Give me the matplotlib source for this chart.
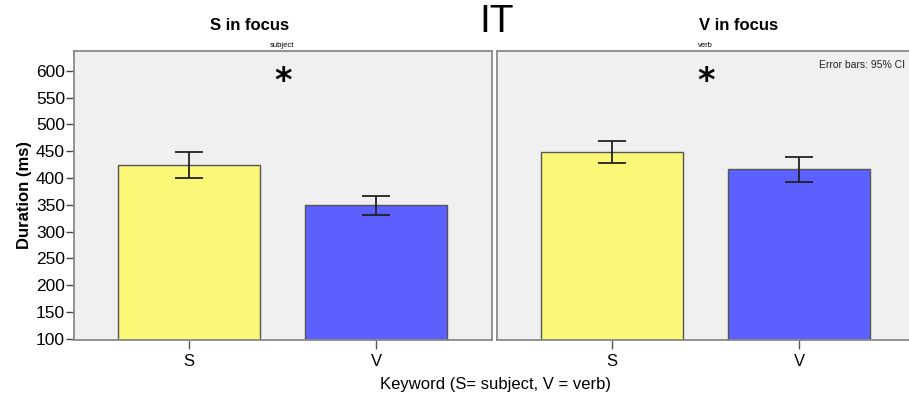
import numpy as np
import matplotlib.pyplot as plt

plt.rcParams['font.family'] = ['Liberation Sans', 'DejaVu Sans']

# Mean durations (ms) with 95% CI bounds
keywords = ['S', 'V']
s_focus_mean = [425, 349]
s_focus_lo = [400, 331]
s_focus_hi = [449, 367]
v_focus_mean = [448, 416]
v_focus_lo = [428, 392]
v_focus_hi = [469, 439]

panel_titles = ['S in focus', 'V in focus']
panel_subs = ['subject', 'verb']
bar_colors = ['#fbf777', '#5c60ff']
bg = '#f0f0f0'
spine_col = '#8a8a8a'

fig = plt.figure(figsize=(9.09, 3.97), dpi=100)
ax1 = fig.add_axes([74/909, 57.5/397, 418/909, 288.5/397])
ax2 = fig.add_axes([497/909, 57.5/397, 418/909, 288.5/397])

panels = [(ax1, s_focus_mean, s_focus_lo, s_focus_hi),
          (ax2, v_focus_mean, v_focus_lo, v_focus_hi)]

x = np.arange(len(keywords))
for ax, mean, lo, hi in panels:
    mean = np.array(mean)
    err = np.array([mean - np.array(lo), np.array(hi) - mean])
    ax.set_facecolor(bg)
    ax.bar(x, mean - 98.5, bottom=98.5, width=0.76, color=bar_colors,
           edgecolor='#555555', linewidth=1.0, zorder=2)
    ax.errorbar(x, mean, yerr=err, fmt='none', ecolor='#222222',
                elinewidth=1.3, capsize=10, capthick=1.3, zorder=3)
    ax.set_xlim(-0.615, 1.62)
    ax.set_ylim(98.5, 637)
    ax.set_xticks(x)
    ax.set_xticklabels(keywords, fontsize=12)
    ax.tick_params(axis='x', length=6.5, width=1, color='#555555', pad=4)
    for sp in ax.spines.values():
        sp.set_color(spine_col)
        sp.set_linewidth(1.3)
    # significance asterisk
    ax.text(0.5, 0.893, '*', transform=ax.transAxes, ha='center', va='center',
            fontsize=24, fontweight='bold', family='DejaVu Sans')

ax1.set_yticks(np.arange(100, 601, 50))
ax1.tick_params(axis='y', length=6, width=1, color='#444444', labelsize=12.5, pad=0.5)
ax1.set_ylabel('Duration (ms)', fontsize=12, fontweight='bold', labelpad=3)
ax2.set_yticks([])

# panel titles and small strip labels
fig.text(250/909, 1 - 26/397, panel_titles[0], ha='center', va='center',
         fontsize=12, fontweight='bold')
fig.text(739/909, 1 - 26/397, panel_titles[1], ha='center', va='center',
         fontsize=12, fontweight='bold')
fig.text(282/909, 1 - 45.5/397, panel_subs[0], ha='center', va='center', fontsize=5.5)
fig.text(705/909, 1 - 45.5/397, panel_subs[1], ha='center', va='center', fontsize=5.5)

fig.text(497/909, 1 - 22/397, 'IT', ha='center', va='center', fontsize=28)
fig.text(819/909, 1 - 65/397, 'Error bars: 95% CI', ha='left', va='center',
         fontsize=7.5, color='#222222')

fig.text(495/909, 1 - 385/397, 'Keyword (S= subject, V = verb)', ha='center',
         va='center', fontsize=12)

fig.savefig('out.png', dpi=100, facecolor='white')
